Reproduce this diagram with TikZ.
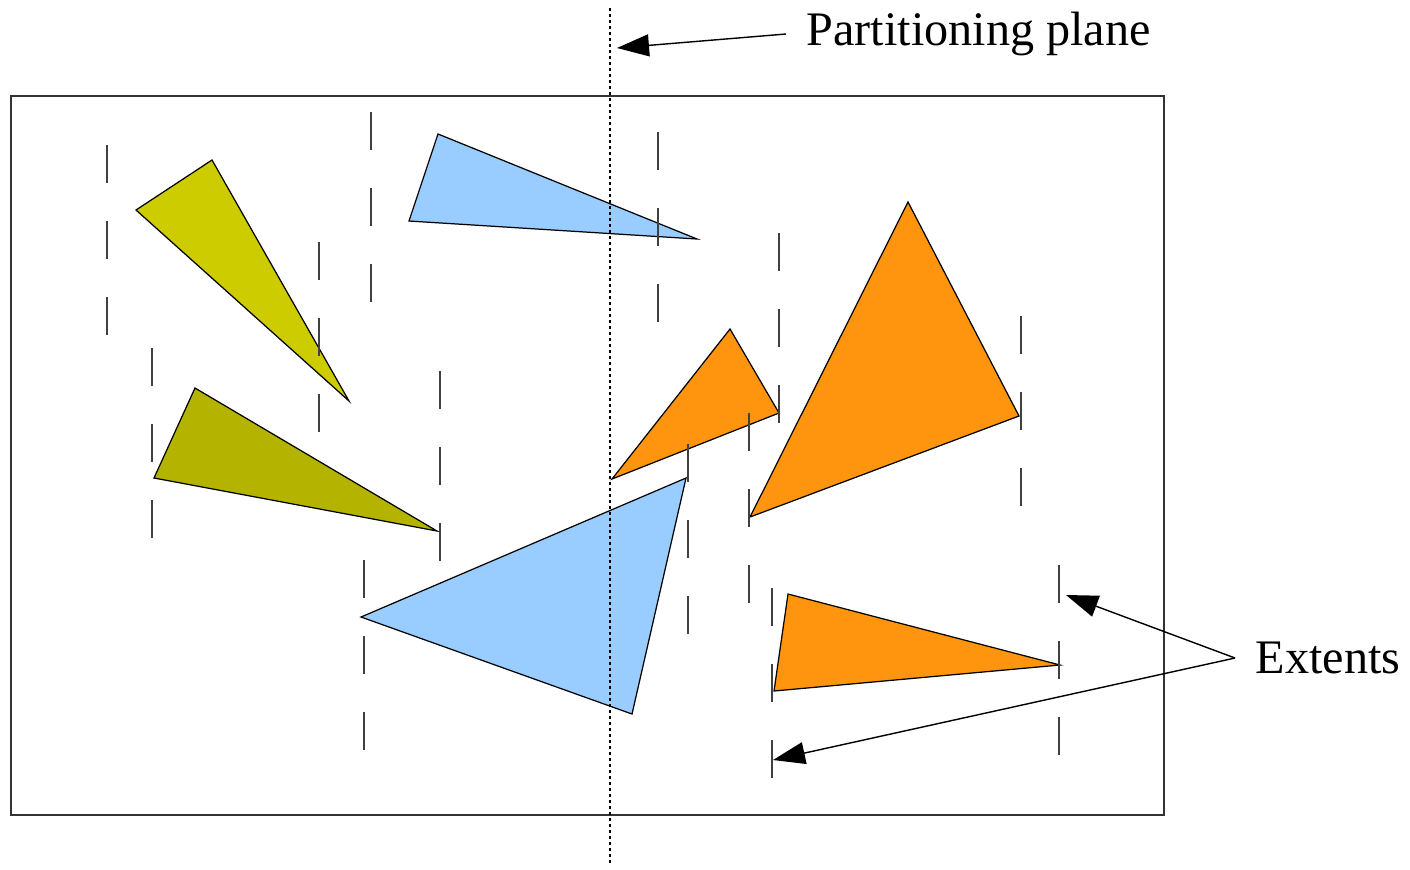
\documentclass[tikz,border=0pt]{standalone}
\usepackage{fontspec}
\setmainfont{Liberation Serif}
\usetikzlibrary{arrows.meta}

\begin{document}
\begin{tikzpicture}[x=0.01cm, y=-0.01cm, >={Triangle[length=0.32cm, width=0.22cm]}]

  % Colors
  \definecolor{yelA}{HTML}{CCCC00}
  \definecolor{yelB}{HTML}{B3B300}
  \definecolor{bluetri}{HTML}{99CCFF}
  \definecolor{orangetri}{HTML}{FF950E}
  \definecolor{framecolor}{HTML}{333333}

  \tikzset{
    tri/.style={draw=black, line width=0.35pt, line join=miter},
    extent/.style={draw=black!75, line width=0.4pt, dash pattern=on 0.38cm off 0.38cm},
    label/.style={font=\fontsize{13.7}{16}\selectfont, inner sep=0.2cm},
    pointer/.style={->, line width=0.4pt}
  }

  \useasboundingbox (0,0) rectangle (1410,869);

  % Scene box
  \draw[framecolor, line width=0.4pt] (11,96) rectangle (1164,815);

  % Triangles left of the plane
  \filldraw[tri, fill=yelA] (136,210) -- (212,160) -- (349,401) -- cycle;
  \filldraw[tri, fill=yelB] (195,388) -- (154,478) -- (437,531) -- cycle;

  % Triangles crossing the plane
  \filldraw[tri, fill=bluetri] (438,134) -- (409,221) -- (697,239) -- cycle;
  \filldraw[tri, fill=bluetri] (361,617) -- (686,478) -- (632,714) -- cycle;

  % Triangles right of the plane
  \filldraw[tri, fill=orangetri] (730,329) -- (779,413) -- (612,479) -- cycle;
  \filldraw[tri, fill=orangetri] (908,202) -- (1019,416) -- (750,517) -- cycle;
  \filldraw[tri, fill=orangetri] (788,594) -- (1060,665) -- (774,691) -- cycle;

  % Extents (three dashes each)
  \foreach \x/\y in {107/145, 319/242, 152/348, 371/112, 440/371, 364/560,
                     658/132, 779/233, 688/444, 749/413, 1021/316, 772/588, 1059/565} {
    \draw[extent] (\x,\y) -- ++(0,190);
  }

  % Partitioning plane
  \draw[black, line width=0.4pt, dash pattern=on 0.03cm off 0.03cm] (610,8) -- (610,866);

  % Labels and pointers
  \node[label, anchor=west] (plane) at (786,34) {Partitioning plane};
  \coordinate (planetip) at (617,48);
  \draw[pointer] (plane.west) -- (planetip);

  \node[label, anchor=west] (extents) at (1235,658) {Extents};
  \coordinate (exttop) at (1066,595);
  \coordinate (extbot) at (773,760);
  \draw[pointer] (extents.west) -- (exttop);
  \draw[pointer] (extents.west) -- (extbot);

\end{tikzpicture}
\end{document}
